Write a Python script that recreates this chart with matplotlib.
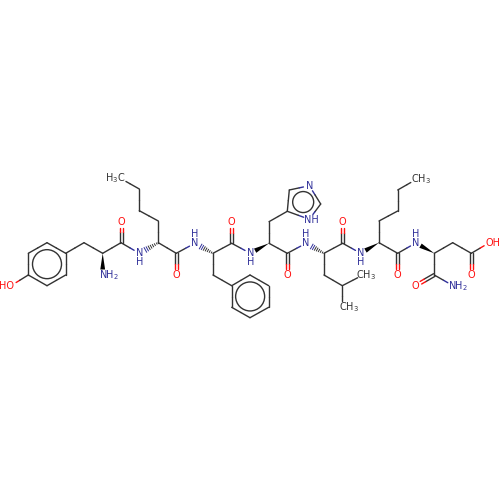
import numpy as np
import matplotlib
matplotlib.use("Agg")
import matplotlib.pyplot as plt
from matplotlib.patches import Circle, Polygon

# atom positions
atom_x = [11, 28.3, 28.3, 47, 65.7, 65.7, 47, 84, 102.7, 102.7, 121, 121, 139.3, 158.3, 158.3, 139.3, 139.3, 120.7,
          176.3, 176.3, 194.8, 213, 231.7, 231.7, 250.3, 269, 269, 287.3, 289.3, 309.3, 320.7, 309.3,
          287.3, 287.3, 306, 324, 324, 342.3, 363, 342.3, 342.7, 342.7, 360.7, 379, 379, 397.7, 397.7, 416,
          397.7, 397.7, 415.7, 434.3, 452.7, 471.3, 471.3, 489.3, 434.3, 415.7, 453,
          213, 231.7, 250, 268.7, 268.7, 250, 231.7]
atom_y = [285.7, 275, 253.3, 242.7, 253.3, 275, 285.7, 242.7, 253.3, 275, 242.7, 221.7, 253.3, 242.7, 221, 210.7, 189, 178.5,
          253.3, 275, 243.3, 253.3, 243.3, 221.7, 253.3, 243.3, 221.7, 211.3, 190, 185.7, 204, 219.3,
          253.3, 275, 243.3, 253.3, 275, 285.7, 275, 306.7, 243.3, 221.7, 253.3, 242.7, 221, 211, 190, 179.5,
          253.3, 275, 243, 253.3, 242.7, 253.3, 275, 242.7, 275, 285.7, 285.7,
          275, 285.7, 275, 285.7, 307.3, 317.7, 307.3]

oxygens = [0, 11, 19, 23, 33, 41, 49, 54, 55, 57]
nitrogens = [9, 12, 20, 24, 29, 31, 34, 42, 50, 58]

single_bonds = [(0, 1), (1, 2), (2, 3), (3, 4), (4, 5), (5, 6), (6, 1), (4, 7), (7, 8), (8, 10), (10, 12), (13, 14),
                (14, 15), (15, 16), (16, 17), (13, 18), (18, 20), (21, 22), (22, 24), (25, 26), (26, 27), (27, 28),
                (28, 29), (29, 30), (30, 31), (31, 27), (25, 32), (32, 34), (35, 36), (36, 37), (37, 38), (37, 39),
                (35, 40), (40, 42), (43, 44), (44, 45), (45, 46), (46, 47), (43, 48), (48, 50), (51, 52), (52, 53),
                (53, 55), (51, 56), (56, 58), (21, 59), (59, 60), (60, 61), (61, 62), (62, 63), (63, 64), (64, 65),
                (65, 60)]
double_bonds = [(10, 11), (18, 19), (22, 23), (32, 33), (40, 41), (48, 49), (53, 54), (56, 57)]
solid_wedges = [(8, 9), (25, 24), (43, 42), (51, 50)]
hash_wedges = [(13, 12), (21, 20), (35, 34)]

benzene_rings = [[1, 2, 3, 4, 5, 6], [60, 61, 62, 63, 64, 65]]
imidazole_ring = [27, 28, 29, 30, 31]

labels = {0: ("HO", -4, 0), 9: ("NH$_2$", 6, 0), 11: ("O", 0, 0), 12: ("N", 0, 0), 17: ("H$_3$C", -5.5, 0),
          19: ("O", 0, 0), 20: ("N", 0, 0), 23: ("O", 0, 0), 24: ("N", 0, 0), 29: ("N", 0, 0), 31: ("NH", 2, 0.5),
          33: ("O", 0, 0), 34: ("N", 0, 0), 38: ("CH$_3$", 3.5, 0), 39: ("CH$_3$", 6.5, 0), 41: ("O", 0, 0),
          42: ("N", 0, 0), 47: ("CH$_3$", 5.5, 0), 49: ("O", 0, 0), 50: ("N", 0, 0), 54: ("O", 0, 0),
          55: ("OH", 3.5, 0), 57: ("O", 0, 0), 58: ("NH$_2$", 5, 0)}
amide_h = {12: (0, 9), 20: (0, -9), 24: (0, 9), 34: (0, -9), 42: (0, 9), 50: (0, -9)}

BOND = "#333333"
NCOL = "#30309a"
OCOL = "#ff1010"
LW = 1.0


def colour(i):
    if i in oxygens:
        return OCOL
    if i in nitrogens:
        return NCOL
    return BOND


def gap(i):
    if i in labels:
        return 6.0
    return 0.0


def draw_bond(p, q, i, j):
    d = (q - p) / np.linalg.norm(q - p)
    a = p + d * gap(i)
    b = q - d * gap(j)
    mid = (p + q) / 2
    ax.plot([a[0], mid[0]], [a[1], mid[1]], color=colour(i), lw=LW, solid_capstyle="round")
    ax.plot([mid[0], b[0]], [mid[1], b[1]], color=colour(j), lw=LW, solid_capstyle="round")


fig = plt.figure(figsize=(5, 5), dpi=100)
ax = fig.add_axes([0, 0, 1, 1])
ax.set_xlim(0, 500)
ax.set_ylim(500, 0)
ax.axis("off")

xy = np.column_stack([atom_x, atom_y])

for i, j in single_bonds:
    draw_bond(xy[i], xy[j], i, j)

for i, j in double_bonds:
    d = (xy[j] - xy[i]) / np.linalg.norm(xy[j] - xy[i])
    n = np.array([-d[1], d[0]]) * 1.5
    draw_bond(xy[i] + n, xy[j] + n, i, j)
    draw_bond(xy[i] - n, xy[j] - n, i, j)

for i, j in solid_wedges:
    d = (xy[j] - xy[i]) / np.linalg.norm(xy[j] - xy[i])
    n = np.array([-d[1], d[0]]) * 2.4
    end = xy[j] - d * 5.5
    ax.add_patch(Polygon([xy[i], end + n, end - n], closed=True, fc="black", ec="none"))

for i, j in hash_wedges:
    d = (xy[j] - xy[i]) / np.linalg.norm(xy[j] - xy[i])
    n = np.array([-d[1], d[0]])
    for f in np.arange(0.08, 0.72, 0.1):
        c = xy[i] + (xy[j] - xy[i]) * f
        w = 0.3 + 3.4 * f
        col = BOND if f < 0.5 else NCOL
        ax.plot([c[0] - n[0] * w, c[0] + n[0] * w], [c[1] - n[1] * w, c[1] + n[1] * w], color=col, lw=0.7)

for ring in benzene_rings:
    ax.add_patch(Circle(xy[ring].mean(axis=0), 14.5, fc="none", ec=BOND, lw=LW))
ax.add_patch(Circle(xy[imidazole_ring].mean(axis=0), 10.5, fc="none", ec=BOND, lw=LW))

for i, (txt, dx, dy) in labels.items():
    ax.text(xy[i, 0] + dx, xy[i, 1] + dy, txt, color=colour(i), fontsize=7, ha="center", va="center",
            family="DejaVu Sans", math_fontfamily="dejavusans")
for i, (dx, dy) in amide_h.items():
    ax.text(xy[i, 0] + dx, xy[i, 1] + dy, "H", color=NCOL, fontsize=7, ha="center", va="center")

fig.savefig("out.png", dpi=100)
